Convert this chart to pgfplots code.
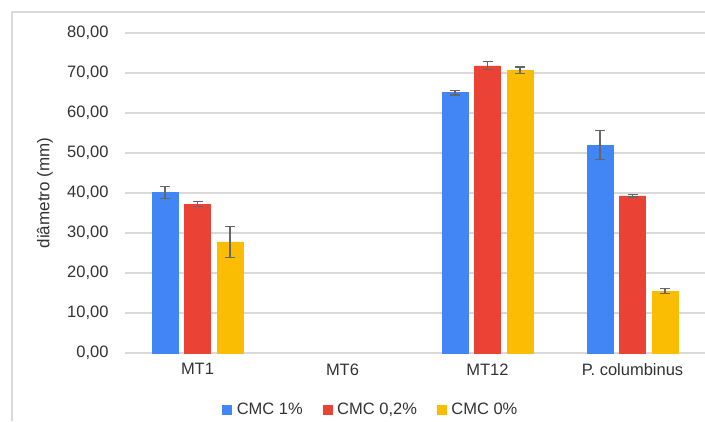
\documentclass[border=0pt]{standalone}
\usepackage{pgfplots}
\pgfplotsset{compat=1.18}
\usepackage{fontspec}
\setmainfont{Liberation Sans}
\definecolor{gblue}{HTML}{4285F4}
\definecolor{gred}{HTML}{EA4335}
\definecolor{gyellow}{HTML}{FBBC04}
\definecolor{gridc}{HTML}{D9D9D9}
\definecolor{txt}{HTML}{333333}
\definecolor{errc}{HTML}{666666}
\pgfplotsset{mylegend/.style={legend image code/.code={\fill[##1] (0pt,-4.5pt) rectangle (9pt,4.5pt);}}}
\begin{document}
\begin{tikzpicture}
\useasboundingbox (0pt,0pt) rectangle (705pt,421pt);
\fill[white] (0pt,0pt) rectangle (705pt,421pt);
\draw[gridc, line width=1.2pt] (12pt,0pt) -- (12pt,409pt) -- (705pt,409pt);
\begin{axis}[
  at={(125pt,68pt)}, anchor=south west,
  scale only axis, width=580pt, height=320pt,
  ymin=0, ymax=80, ytick={0,10,...,80},
  xmin=-0.5, xmax=3.5,
  xtick={0,1,2,3},
  xticklabels={MT1,MT6,MT12,P. columbinus},
  major tick length=0pt,
  axis line style={draw=none},
  ymajorgrids, grid style={gridc, line width=1.2pt},
  clip=false,
  /pgf/number format/.cd, fixed, fixed zerofill, precision=2, use comma, 1000 sep={}, assume math mode=true,
  /pgfplots/.cd,
  every tick label/.append style={font=\fontsize{16.5}{19}\selectfont, text=txt},
  yticklabel style={xshift=-13pt},
  xticklabel style={yshift=-7pt},
  ylabel={diâmetro (mm)},
  ylabel style={at={(axis description cs:-0.138,0.5)}, anchor=center, font=\fontsize{17}{20}\selectfont, text=txt},
  legend style={at={(axis description cs:0.424,-0.178)}, anchor=center, draw=none, fill=none,
    legend columns=3, font=\fontsize{16.5}{19}\selectfont, text=txt,
    /tikz/every odd column/.append style={column sep=3pt},
    /tikz/every even column/.append style={column sep=18pt}},
  ybar, bar width=26pt,
  every axis plot post/.append style={mylegend},
  error bars/y dir=both, error bars/y explicit,
  error bars/error bar style={errc, line width=1.1pt},
  error bars/error mark options={errc, rotate=90, mark size=5pt, line width=1.1pt},
]
\addplot[fill=gblue, draw=gblue, bar shift=-32.5pt] coordinates {
  (0,40.1) +- (0,1.5)
  (2,65.1) +- (0,0.6)
  (3,52.0) +- (0,3.6)
};
\addlegendentry{CMC 1\%}
\addplot[fill=gred, draw=gred, bar shift=0pt] coordinates {
  (0,37.2) +- (0,0.6)
  (2,71.8) +- (0,1.0)
  (3,39.3) +- (0,0.3)
};
\addlegendentry{CMC 0,2\%}
\addplot[fill=gyellow, draw=gyellow, bar shift=32.5pt] coordinates {
  (0,27.8) +- (0,3.9)
  (2,70.7) +- (0,0.8)
  (3,15.5) +- (0,0.6)
};
\addlegendentry{CMC 0\%}
\end{axis}
\end{tikzpicture}
\end{document}
